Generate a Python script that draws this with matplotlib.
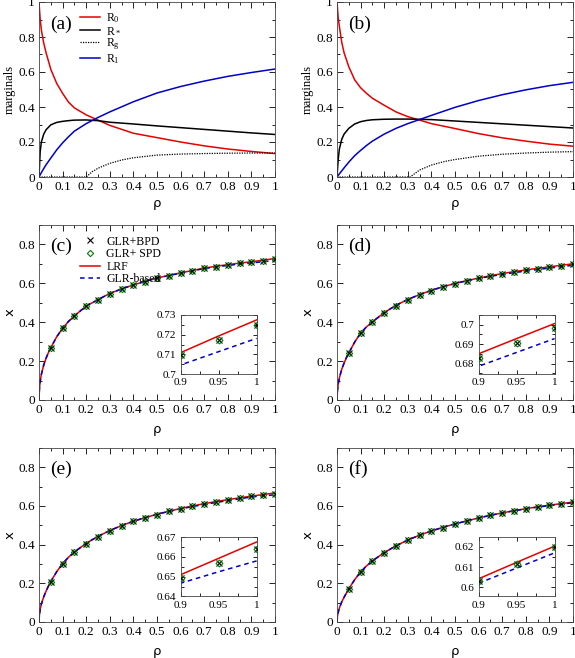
"""Seis paneles: marginales (a, b) y curvas x(rho) con recuadros (c-f)."""

import matplotlib

matplotlib.use("Agg")
import matplotlib.pyplot as plt
from matplotlib.ticker import FuncFormatter, MultipleLocator

# --- Datos ---
# Rejilla de rho para las marginales.
rho_m = [0, 0.005, 0.01, 0.02, 0.03, 0.05, 0.075, 0.1, 0.125, 0.15, 0.2,
         0.25, 0.3, 0.4, 0.5, 0.6, 0.7, 0.8, 0.9, 1.0]

r0_a = [1.0, 0.90, 0.84, 0.765, 0.71, 0.615, 0.535, 0.478, 0.428, 0.395, 0.355,
        0.325, 0.295, 0.25, 0.225, 0.2, 0.178, 0.16, 0.146, 0.134]
rs_a = [0, 0.145, 0.2, 0.245, 0.27, 0.298, 0.312, 0.318, 0.322, 0.325, 0.326,
        0.322, 0.313, 0.303, 0.292, 0.282, 0.272, 0.262, 0.252, 0.243]
r1_a = [0, 0.013, 0.025, 0.048, 0.07, 0.108, 0.155, 0.195, 0.23, 0.262, 0.305,
        0.34, 0.372, 0.43, 0.48, 0.517, 0.548, 0.575, 0.597, 0.617]
rho_g_a = [0, 0.2, 0.225, 0.25, 0.3, 0.35, 0.4, 0.5, 0.6, 0.7, 0.8, 0.9, 1.0]
rg_a = [0, 0, 0.03, 0.05, 0.078, 0.097, 0.11, 0.125, 0.131, 0.134, 0.136, 0.137, 0.137]

r0_b = [1.0, 0.91, 0.86, 0.77, 0.71, 0.63, 0.555, 0.51, 0.478, 0.45, 0.41,
        0.372, 0.345, 0.305, 0.277, 0.248, 0.224, 0.205, 0.188, 0.176]
rs_b = [0, 0.1, 0.16, 0.215, 0.245, 0.278, 0.303, 0.316, 0.323, 0.327, 0.33,
        0.331, 0.331, 0.328, 0.32, 0.312, 0.304, 0.296, 0.288, 0.28]
r1_b = [0, 0.009, 0.018, 0.035, 0.052, 0.085, 0.122, 0.152, 0.18, 0.205, 0.245,
        0.278, 0.305, 0.352, 0.398, 0.437, 0.47, 0.498, 0.522, 0.541]
rho_g_b = [0, 0.31, 0.35, 0.4, 0.45, 0.5, 0.6, 0.7, 0.8, 0.9, 1.0]
rg_b = [0, 0, 0.04, 0.068, 0.087, 0.1, 0.119, 0.13, 0.137, 0.142, 0.145]

# Puntos simulados (GLR+BPD y GLR+SPD coinciden a esta escala).
rho_pts = [0.05, 0.1, 0.15, 0.2, 0.25, 0.3, 0.35, 0.4, 0.45, 0.5,
           0.55, 0.6, 0.65, 0.7, 0.75, 0.8, 0.85, 0.9, 0.95, 1.0]
pts_c = [0.268, 0.368, 0.432, 0.482, 0.515, 0.547, 0.570, 0.591, 0.608, 0.626,
         0.640, 0.653, 0.665, 0.677, 0.686, 0.695, 0.703, 0.7095, 0.7172, 0.7246]
pts_d = [0.241, 0.343, 0.400, 0.448, 0.486, 0.516, 0.541, 0.563, 0.581, 0.597,
         0.612, 0.625, 0.637, 0.648, 0.658, 0.667, 0.675, 0.6826, 0.6905, 0.698]
pts_e = [0.209, 0.301, 0.361, 0.406, 0.442, 0.472, 0.498, 0.520, 0.539, 0.556,
         0.572, 0.586, 0.598, 0.609, 0.620, 0.630, 0.640, 0.6493, 0.657, 0.6643]
pts_f = [0.171, 0.258, 0.315, 0.358, 0.393, 0.423, 0.448, 0.470, 0.488, 0.506,
         0.522, 0.537, 0.551, 0.563, 0.575, 0.585, 0.595, 0.6033, 0.6117, 0.620]

# Curvas teóricas (LRF y GLR-based).
rho_c = [0, 0.002, 0.005, 0.01, 0.02, 0.03, 0.04, 0.05, 0.075, 0.1, 0.125, 0.15,
         0.2, 0.25, 0.3, 0.35, 0.4, 0.45, 0.5, 0.55, 0.6, 0.65, 0.7, 0.75,
         0.8, 0.85, 0.9, 0.95, 1.0]
lrf_c = [0, 0.06, 0.095, 0.132, 0.18, 0.215, 0.244, 0.269, 0.325, 0.369, 0.404, 0.433,
         0.483, 0.516, 0.548, 0.571, 0.592, 0.610, 0.627, 0.641, 0.654, 0.666, 0.678,
         0.688, 0.696, 0.704, 0.7109, 0.7193, 0.7274]
glr_c = [0, 0.06, 0.095, 0.132, 0.18, 0.215, 0.244, 0.269, 0.325, 0.369, 0.404, 0.433,
         0.483, 0.516, 0.548, 0.571, 0.592, 0.610, 0.627, 0.640, 0.652, 0.664, 0.676,
         0.685, 0.692, 0.699, 0.7047, 0.7114, 0.7181]
lrf_d = [0, 0.05, 0.08, 0.113, 0.158, 0.19, 0.218, 0.242, 0.298, 0.344, 0.376, 0.402,
         0.449, 0.487, 0.517, 0.542, 0.564, 0.583, 0.599, 0.614, 0.627, 0.639, 0.650,
         0.660, 0.669, 0.677, 0.685, 0.6928, 0.7005]
glr_d = [0, 0.05, 0.08, 0.113, 0.158, 0.19, 0.218, 0.242, 0.298, 0.344, 0.376, 0.402,
         0.449, 0.487, 0.517, 0.542, 0.564, 0.583, 0.599, 0.613, 0.625, 0.636, 0.646,
         0.655, 0.663, 0.671, 0.6786, 0.6857, 0.6928]
lrf_e = [0, 0.04, 0.065, 0.093, 0.13, 0.16, 0.186, 0.21, 0.26, 0.302, 0.335, 0.362,
         0.407, 0.443, 0.473, 0.499, 0.521, 0.540, 0.557, 0.573, 0.587, 0.600, 0.612,
         0.623, 0.633, 0.642, 0.651, 0.6593, 0.6676]
glr_e = [0, 0.04, 0.065, 0.093, 0.13, 0.16, 0.186, 0.21, 0.26, 0.302, 0.335, 0.362,
         0.407, 0.443, 0.473, 0.499, 0.521, 0.540, 0.557, 0.572, 0.585, 0.597, 0.608,
         0.618, 0.628, 0.637, 0.6467, 0.6525, 0.658]
lrf_f = [0, 0.03, 0.05, 0.072, 0.104, 0.128, 0.15, 0.172, 0.219, 0.259, 0.29, 0.316,
         0.359, 0.394, 0.424, 0.449, 0.471, 0.490, 0.507, 0.523, 0.538, 0.552, 0.564,
         0.576, 0.586, 0.596, 0.6042, 0.6123, 0.6203]
glr_f = [0, 0.03, 0.05, 0.072, 0.104, 0.128, 0.15, 0.172, 0.219, 0.259, 0.29, 0.316,
         0.359, 0.394, 0.424, 0.449, 0.471, 0.490, 0.507, 0.523, 0.538, 0.552, 0.564,
         0.575, 0.585, 0.594, 0.602, 0.6095, 0.617]

# Límites del eje y de cada recuadro.
inset_ylims = {"c": (0.7, 0.73), "d": (0.6745, 0.705), "e": (0.64, 0.67), "f": (0.5955, 0.6247)}

RED = "#e60000"
BLUE = "#0000c8"
GREEN = "#007a00"

plt.rcParams["font.family"] = ["Liberation Serif", "DejaVu Serif"]
plt.rcParams["mathtext.fontset"] = "custom"
plt.rcParams["mathtext.rm"] = "Liberation Serif"
plt.rcParams["mathtext.it"] = "Liberation Serif:italic"

fmt = FuncFormatter(lambda v, _: f"{v:g}")


def style_axes(ax, xmaj, xmin, ymaj, ymin, size=9.5):
    """Marcas hacia dentro en los cuatro lados, estilo gnuplot."""
    ax.xaxis.set_major_locator(MultipleLocator(xmaj))
    ax.xaxis.set_minor_locator(MultipleLocator(xmin))
    ax.yaxis.set_major_locator(MultipleLocator(ymaj))
    ax.yaxis.set_minor_locator(MultipleLocator(ymin))
    ax.xaxis.set_major_formatter(fmt)
    ax.yaxis.set_major_formatter(fmt)
    ax.tick_params(which="both", direction="in", top=True, right=True,
                   labelsize=size, width=0.6, pad=3)
    ax.tick_params(which="major", length=4)
    ax.tick_params(which="minor", length=2)
    for s in ax.spines.values():
        s.set_linewidth(0.6)
        s.set_color("#444444")


fig = plt.figure(figsize=(5.75, 6.58), dpi=100)
W, H = 575, 658
lefts = [39, 337]
rows = [(2, 177), (225, 400), (448, 622)]


def make_ax(col, row):
    top, bot = rows[row]
    return fig.add_axes([lefts[col] / W, (H - bot) / H, 236 / W, (bot - top) / H])


# --- Paneles de marginales ---
marg = [("a", r0_a, rs_a, r1_a, rho_g_a, rg_a), ("b", r0_b, rs_b, r1_b, rho_g_b, rg_b)]
for col, (tag, r0, rs, r1, rhog, rg) in enumerate(marg):
    ax = make_ax(col, 0)
    ax.plot(rho_m, r0, color=RED, lw=1.1, label=r"R$_0$")
    ax.plot(rho_m, rs, color="black", lw=1.1, label=r"R$_*$")
    ax.plot(rhog, rg, color="black", lw=0.9, ls=(0, (1, 1)), label=r"R$_{\rm g}$")
    ax.plot(rho_m, r1, color=BLUE, lw=1.1, label=r"R$_1$")
    ax.set_xlim(0, 1)
    ax.set_ylim(0, 1)
    style_axes(ax, 0.1, 0.05, 0.2, 0.1)
    ax.set_ylabel("marginals", fontsize=9)
    ax.yaxis.set_label_coords(-0.1, 0.5)
    ax.set_xlabel("ρ", family="DejaVu Sans", fontsize=9.5, labelpad=3)
    ax.text(0.047, 0.875, f"({tag})", transform=ax.transAxes, fontsize=14, va="center")
    if tag == "a":
        ax.legend(loc="upper left", bbox_to_anchor=(0.13, 1.01), frameon=False,
                  fontsize=8.5, handlelength=1.7, handletextpad=0.5, labelspacing=0.0)

# --- Paneles x(rho) ---
xpanels = [("c", pts_c, lrf_c, glr_c), ("d", pts_d, lrf_d, glr_d),
           ("e", pts_e, lrf_e, glr_e), ("f", pts_f, lrf_f, glr_f)]
for i, (tag, pts, lrf, glr) in enumerate(xpanels):
    ax = make_ax(i % 2, 1 + i // 2)
    ins = ax.inset_axes([0.6, 0.147, 0.322, 0.34])
    for a, ms in ((ax, 4.5), (ins, 5)):
        a.plot(rho_c, lrf, color=RED, lw=1.1, label="LRF", zorder=2)
        a.plot(rho_c, glr, color=BLUE, lw=1.1, ls=(0, (3, 2.5)), label="GLR-based", zorder=2)
        a.plot(rho_pts, pts, ls="none", marker="x", ms=ms, mew=0.8, color="black",
               label="GLR+BPD", zorder=3)
        a.plot(rho_pts, pts, ls="none", marker="D", ms=ms * 0.7, mew=0.8, mfc="none",
               mec=GREEN, label="GLR+ SPD", zorder=3)
    ax.set_xlim(0, 1)
    ax.set_ylim(0, 0.9)
    style_axes(ax, 0.1, 0.05, 0.2, 0.1)
    ax.set_ylabel("x", family="DejaVu Sans", fontsize=9.5)
    ax.yaxis.set_label_coords(-0.095, 0.5)
    ax.set_xlabel("ρ", family="DejaVu Sans", fontsize=9.5, labelpad=5)
    ax.text(0.047, 0.88, f"({tag})", transform=ax.transAxes, fontsize=14, va="center")

    ins.set_xlim(0.9, 1.0)
    ins.set_ylim(*inset_ylims[tag])
    style_axes(ins, 0.05, 0.025, 0.01, 0.005, size=8)
    ins.tick_params(which="major", length=3)
    ins.set_facecolor("white")

    if tag == "c":
        h, l = ax.get_legend_handles_labels()
        order = [2, 3, 0, 1]
        ax.legend([h[k] for k in order], [l[k] for k in order], loc="upper left",
                  bbox_to_anchor=(0.13, 1.0), frameon=False, fontsize=8.5,
                  handlelength=1.7, handletextpad=0.5, labelspacing=0.05)

fig.savefig("out.png", dpi=100)
